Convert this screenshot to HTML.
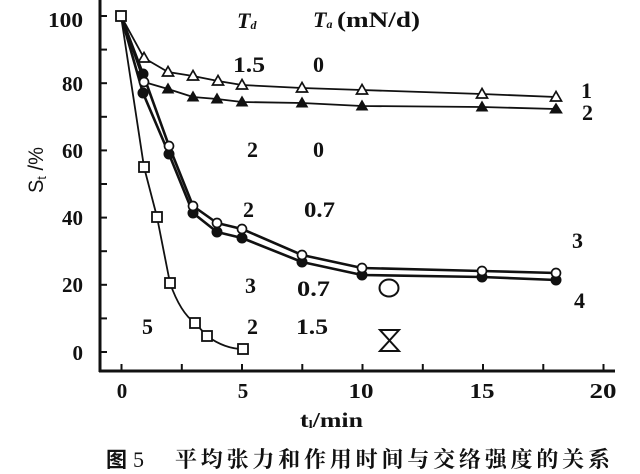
<!DOCTYPE html>
<html><head><meta charset="utf-8"><style>
html,body{margin:0;padding:0;background:#fff;}
svg{display:block;}
.t{font-family:"Liberation Serif",serif;font-weight:bold;font-size:21px;fill:#111;}
.r{font-family:"Liberation Serif",serif;font-weight:bold;font-size:22px;fill:#111;}
</style></head><body>
<svg width="640" height="474" viewBox="0 0 640 474" xmlns="http://www.w3.org/2000/svg">
<rect width="640" height="474" fill="#fff"/>
<!-- axes -->
<g stroke="#111" fill="none">
<line x1="100" y1="0" x2="100" y2="372" stroke-width="3"/>
<line x1="99" y1="371" x2="615" y2="371" stroke-width="3"/>
<g stroke-width="2">
<line x1="100" y1="16" x2="107" y2="16"/>
<line x1="100" y1="49.6" x2="107" y2="49.6"/>
<line x1="100" y1="83.2" x2="107" y2="83.2"/>
<line x1="100" y1="116.8" x2="107" y2="116.8"/>
<line x1="100" y1="150.4" x2="107" y2="150.4"/>
<line x1="100" y1="184" x2="107" y2="184"/>
<line x1="100" y1="217.6" x2="107" y2="217.6"/>
<line x1="100" y1="251.2" x2="107" y2="251.2"/>
<line x1="100" y1="284.8" x2="107" y2="284.8"/>
<line x1="100" y1="318.4" x2="107" y2="318.4"/>
<line x1="100" y1="352" x2="107" y2="352"/>
<line x1="121.5" y1="371" x2="121.5" y2="364"/>
<line x1="181.8" y1="371" x2="181.8" y2="364"/>
<line x1="242" y1="371" x2="242" y2="364"/>
<line x1="302.3" y1="371" x2="302.3" y2="364"/>
<line x1="362.5" y1="371" x2="362.5" y2="364"/>
<line x1="422.8" y1="371" x2="422.8" y2="364"/>
<line x1="483" y1="371" x2="483" y2="364"/>
<line x1="543.3" y1="371" x2="543.3" y2="364"/>
<line x1="603.5" y1="371" x2="603.5" y2="364"/>
</g>
</g>
<!-- y tick labels -->
<g class="t" text-anchor="end">
<text x="83" y="27" textLength="35" lengthAdjust="spacingAndGlyphs">100</text>
<text x="83" y="91" textLength="21" lengthAdjust="spacingAndGlyphs">80</text>
<text x="83" y="158" textLength="21" lengthAdjust="spacingAndGlyphs">60</text>
<text x="83" y="225" textLength="21" lengthAdjust="spacingAndGlyphs">40</text>
<text x="83" y="292" textLength="21" lengthAdjust="spacingAndGlyphs">20</text>
<text x="83" y="360">0</text>
</g>
<!-- x tick labels -->
<g class="t" text-anchor="middle">
<text x="122" y="398">0</text>
<text x="243" y="398">5</text>
<text x="361" y="398" textLength="25" lengthAdjust="spacingAndGlyphs">10</text>
<text x="482" y="398" textLength="25" lengthAdjust="spacingAndGlyphs">15</text>
<text x="603" y="398" textLength="27" lengthAdjust="spacingAndGlyphs">20</text>
</g>
<!-- axis titles -->
<text class="t" x="300" y="427" textLength="63" lengthAdjust="spacingAndGlyphs">t<tspan font-size="12" dy="1">l</tspan><tspan dy="-1">/min</tspan></text>
<text x="43" y="170" transform="rotate(-90 43 170)" text-anchor="middle" font-family="Liberation Sans, sans-serif" font-size="21" fill="#111" textLength="46" lengthAdjust="spacingAndGlyphs">S<tspan font-size="13" dy="3">t</tspan><tspan dy="-3"> /%</tspan></text>

<!-- series lines -->
<g fill="none" stroke="#111" stroke-linejoin="round">
<polyline stroke-width="1.8" points="121,16 144,58 168,72 193,76 218,81 242,85 302,88 362,90 482,94 556,97"/>
<polyline stroke-width="1.8" points="121,16 144,82 168,89 193,97 217,99 242,102 302,103 362,106 482,107 556,109"/>
<polyline stroke-width="2.6" points="121,16 143,74 169,146 193,206 217,223 242,229 302,255 362,268 482,271 556,273"/>
<polyline stroke-width="2.6" points="121,16 143,93 169,154 193,213 217,232 242,238 302,262 362,275 482,277 556,280"/>
<path stroke-width="1.8" d="M121,16 L144,167 L157,217 L170,283 C177,303 185,316 195,323 C199,327 203,332 207,336 C218,344 230,349 243,349"/>
</g>

<!-- series 1 open triangles -->
<g fill="#fff" stroke="#111" stroke-width="1.7">
<polygon points="144,52.5 138.5,62 149.5,62"/>
<polygon points="168,66.5 162.5,76 173.5,76"/>
<polygon points="193,70.5 187.5,80 198.5,80"/>
<polygon points="218,75.5 212.5,85 223.5,85"/>
<polygon points="242,79.5 236.5,89 247.5,89"/>
<polygon points="302,82.5 296.5,92 307.5,92"/>
<polygon points="362,84.5 356.5,94 367.5,94"/>
<polygon points="482,88.5 476.5,98 487.5,98"/>
<polygon points="556,91.5 550.5,101 561.5,101"/>
</g>
<!-- series 2 filled triangles -->
<g fill="#111" stroke="#111" stroke-width="1">
<polygon points="168,83.5 162.5,93 173.5,93"/>
<polygon points="193,91.5 187.5,101 198.5,101"/>
<polygon points="217,93.5 211.5,103 222.5,103"/>
<polygon points="242,96.5 236.5,106 247.5,106"/>
<polygon points="302,97.5 296.5,107 307.5,107"/>
<polygon points="362,100.5 356.5,110 367.5,110"/>
<polygon points="482,101.5 476.5,111 487.5,111"/>
<polygon points="556,103.5 550,113 562,113"/>
</g>
<!-- series 4 filled circles -->
<g fill="#111" stroke="#111" stroke-width="1">
<circle cx="143" cy="74" r="5"/>
<circle cx="143" cy="93" r="5"/>
<circle cx="169" cy="154" r="5"/>
<circle cx="193" cy="213" r="5"/>
<circle cx="217" cy="232" r="5"/>
<circle cx="242" cy="238" r="5"/>
<circle cx="302" cy="262" r="5"/>
<circle cx="362" cy="275" r="5"/>
<circle cx="482" cy="277" r="5"/>
<circle cx="556" cy="280" r="5"/>
</g>
<!-- series 3 open circles -->
<g fill="#fff" stroke="#111" stroke-width="1.7">
<circle cx="144" cy="82" r="4.5"/>
<circle cx="169" cy="146" r="4.5"/>
<circle cx="193" cy="206" r="4.5"/>
<circle cx="217" cy="223" r="4.5"/>
<circle cx="242" cy="229" r="4.5"/>
<circle cx="302" cy="255" r="4.5"/>
<circle cx="362" cy="268" r="4.5"/>
<circle cx="482" cy="271" r="4.5"/>
<circle cx="556" cy="273" r="4.5"/>
</g>
<!-- series 5 open squares -->
<g fill="#fff" stroke="#111" stroke-width="1.8">
<rect x="116" y="11" width="10" height="10"/>
<rect x="139" y="162" width="10" height="10"/>
<rect x="152" y="212" width="10" height="10"/>
<rect x="165" y="278" width="10" height="10"/>
<rect x="190" y="318" width="10" height="10"/>
<rect x="202" y="331" width="10" height="10"/>
<rect x="238" y="344" width="10" height="10"/>
</g>
<!-- isolated markers -->
<ellipse cx="389" cy="288" rx="9.5" ry="8.5" fill="#fff" stroke="#111" stroke-width="2"/>
<polygon points="380,330 399,330 389.5,340.5 399,351 380,351 389.5,340.5" fill="#fff" stroke="#111" stroke-width="2" stroke-linejoin="miter"/>

<!-- header -->
<text class="r" x="237" y="28" font-style="italic">T<tspan font-size="12" dy="1">d</tspan></text>
<text class="r" x="313" y="27" font-style="italic">T<tspan font-size="12" dy="1">a</tspan></text>
<text class="r" x="337" y="27" textLength="83" lengthAdjust="spacingAndGlyphs">(mN/d)</text>

<!-- row labels -->
<g class="r">
<text x="233" y="72" textLength="32" lengthAdjust="spacingAndGlyphs">1.5</text>
<text x="313" y="72">0</text>
<text x="247" y="157">2</text>
<text x="313" y="157">0</text>
<text x="243" y="217">2</text>
<text x="304" y="217" textLength="31" lengthAdjust="spacingAndGlyphs">0.7</text>
<text x="245" y="293">3</text>
<text x="297" y="296" textLength="33" lengthAdjust="spacingAndGlyphs">0.7</text>
<text x="142" y="334">5</text>
<text x="247" y="334">2</text>
<text x="296" y="334" textLength="32" lengthAdjust="spacingAndGlyphs">1.5</text>
<text x="581" y="98">1</text>
<text x="582" y="120">2</text>
<text x="572" y="248">3</text>
<text x="574" y="308">4</text>
</g>

<!-- caption -->
<text x="106" y="467" font-family="Noto Sans CJK SC, sans-serif" font-weight="bold" font-size="21" fill="#111">图</text>
<text x="133" y="467" font-family="Liberation Serif, serif" font-size="22" fill="#111">5</text>
<text x="175" y="467" font-family="Noto Serif CJK SC, serif" font-weight="bold" font-size="22" fill="#111" textLength="435" lengthAdjust="spacing">平均张力和作用时间与交络强度的关系</text>
</svg>
</body></html>
